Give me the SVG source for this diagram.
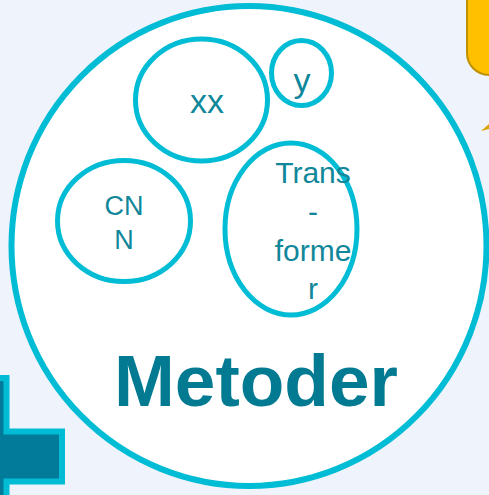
<svg xmlns="http://www.w3.org/2000/svg" width="489" height="495" viewBox="0 0 489 495">
<style>
.ring{fill:none;stroke:#00BCD4;stroke-width:5}
.lbl{font-family:"Liberation Sans",Arial,sans-serif;fill:#10879A;text-anchor:middle}
</style>
<rect width="489" height="495" fill="#EFF3FC"/>
<g id="note">
<rect x="467" y="-30" width="60" height="105" rx="22" fill="#FFC000" stroke="#BF9000" stroke-width="2"/>
<path d="M481,131 L489,124 L489,129 Z" fill="#D9A400"/>
</g>
<g id="cross">
<path d="M-40,378 H6.5 V431.5 H62 V481.5 H6.5 V500 H-40 Z" fill="#027B9A" stroke="#00BCD4" stroke-width="6"/>
</g>
<g id="metoder">
<ellipse cx="249" cy="246" rx="237.5" ry="240" fill="#FFFFFF" stroke="#00BCD4" stroke-width="6"/>
<text x="256" y="406" class="lbl" style="font-size:73px;font-weight:bold;fill:#027A92">Metoder</text>
</g>
<g id="xx">
<ellipse cx="201.5" cy="100" rx="66" ry="61" class="ring"/>
<text x="207" y="113" class="lbl" font-size="34">xx</text>
</g>
<g id="y">
<ellipse cx="301.5" cy="73" rx="30" ry="32.5" class="ring"/>
<text x="302" y="92" class="lbl" font-size="34">y</text>
</g>
<g id="cnn">
<ellipse cx="124" cy="221" rx="66.5" ry="60.5" class="ring"/>
<text class="lbl" font-size="27"><tspan x="124" y="215">CN</tspan><tspan x="124" y="249">N</tspan></text>
</g>
<g id="transformer">
<ellipse cx="291" cy="229" rx="66" ry="86" class="ring"/>
<text class="lbl" font-size="30"><tspan x="313" y="183">Trans</tspan><tspan x="313" y="222">-</tspan><tspan x="313" y="261">forme</tspan><tspan x="313" y="299">r</tspan></text>
</g>
<g id="connectors"/>
</svg>
